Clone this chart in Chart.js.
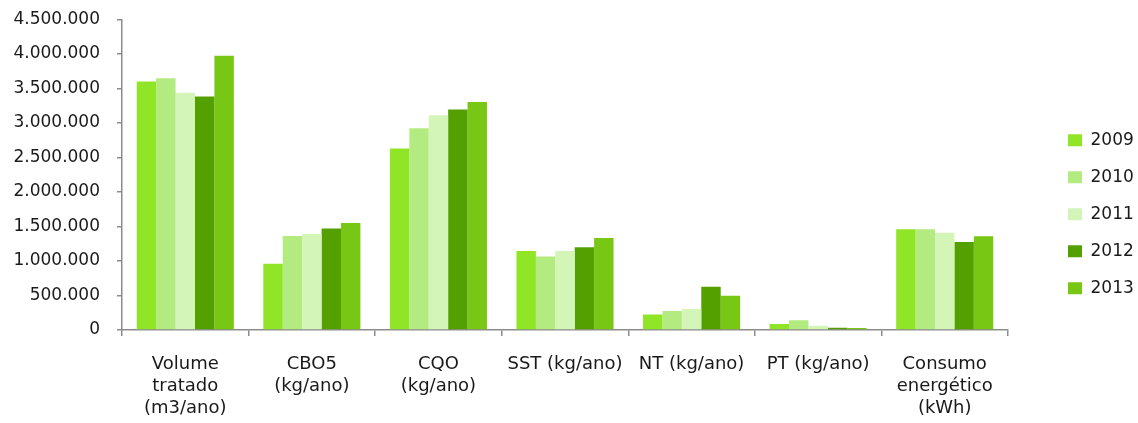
<!DOCTYPE html>
<html>
<head>
<meta charset="utf-8">
<script src="https://cdn.jsdelivr.net/npm/chart.js@4"></script>
<style>
  html, body { margin: 0; padding: 0; background: #ffffff; }
  #wrap { width: 1138px; height: 423px; position: relative; }
</style>
</head>
<body>
<div id="wrap"><canvas id="c"></canvas></div>
<script>
// Indicadores da ETAR, 2009–2013
const categories = [
  ['Volume', 'tratado', '(m3/ano)'],
  ['CBO5', '(kg/ano)'],
  ['CQO', '(kg/ano)'],
  'SST (kg/ano)',
  'NT (kg/ano)',
  'PT (kg/ano)',
  ['Consumo', 'energético', '(kWh)']
];
const years = ['2009', '2010', '2011', '2012', '2013'];
const values2009 = [3600000,  960000, 2630000, 1145000, 223000,  87000, 1459000];
const values2010 = [3650000, 1363000, 2924000, 1067000, 276000, 140000, 1459000];
const values2011 = [3438000, 1392000, 3113000, 1145000, 306000,  63000, 1411000];
const values2012 = [3385000, 1470000, 3196000, 1198000, 626000,  33000, 1275000];
const values2013 = [3975000, 1552000, 3303000, 1334000, 495000,  30000, 1357000];
const yTickValues = [0, 500000, 1000000, 1500000, 2000000, 2500000, 3000000, 3500000, 4000000, 4500000];

const seriesValues = [values2009, values2010, values2011, values2012, values2013];
const seriesColors = ['#8fe526', '#b4eb80', '#d3f5b8', '#54a000', '#77c714'];

const AXIS = '#8c8c8c';
const TEXT = '#1a1a1a';

// thousands separated by dots
function fmt(v) {
  return String(Math.round(v)).replace(/\B(?=(\d{3})+(?!\d))/g, '.');
}

// keeps the legend at a fixed width and places its column to the right of the plot
const legendPlacement = {
  id: 'legendPlacement',
  afterInit(chart) {
    const lg = chart.legend;
    const fit = lg.fit.bind(lg);
    lg.fit = function () { fit(); this.width = 130; };
  },
  afterLayout(chart) {
    const lg = chart.legend;
    lg.left += 40;
    lg.right += 40;
    lg.top -= 7;
    lg.bottom -= 7;
  }
};

new Chart(document.getElementById('c'), {
  type: 'bar',
  data: {
    labels: categories,
    datasets: years.map((y, i) => ({
      label: y,
      data: seriesValues[i],
      backgroundColor: seriesColors[i],
      borderWidth: 0,
      barPercentage: 1.0,
      categoryPercentage: 0.767
    }))
  },
  options: {
    responsive: true,
    maintainAspectRatio: false,
    animation: false,
    devicePixelRatio: 1,
    layout: { padding: { top: 19.5, right: 0, bottom: 0, left: 0 } },
    plugins: {
      tooltip: { enabled: false },
      legend: {
        position: 'right',
        align: 'center',
        labels: {
          boxWidth: 14,
          boxHeight: 12,
          padding: 20,
          color: TEXT,
          font: { family: 'DejaVu Sans', size: 17 }
        }
      }
    },
    scales: {
      x: {
        offset: true,
        grid: {
          display: true,
          offset: true,
          drawOnChartArea: false,
          drawTicks: true,
          tickLength: 6,
          color: AXIS,
          lineWidth: 1.5
        },
        border: { display: true, color: AXIS, width: 1.5 },
        ticks: {
          autoSkip: false,
          maxRotation: 0,
          minRotation: 0,
          padding: 17,
          color: TEXT,
          font: { family: 'DejaVu Sans', size: 18, lineHeight: 1.22 }
        },
        afterFit(scale) { scale.height = 93; }
      },
      y: {
        min: 0,
        max: 4500000,
        afterBuildTicks(scale) { scale.ticks = yTickValues.map(v => ({ value: v })); },
        grid: {
          display: true,
          drawOnChartArea: false,
          drawTicks: true,
          tickLength: 5,
          color: AXIS,
          lineWidth: 1.5
        },
        border: { display: true, color: AXIS, width: 1.5 },
        ticks: {
          padding: 17,
          color: TEXT,
          font: { family: 'DejaVu Sans', size: 17 },
          callback: (v) => fmt(v)
        },
        afterFit(scale) {
          scale.width = 122;
          scale.paddingTop = 0;
          scale.paddingBottom = 0;
        }
      }
    }
  },
  plugins: [legendPlacement]
});
</script>
</body>
</html>
